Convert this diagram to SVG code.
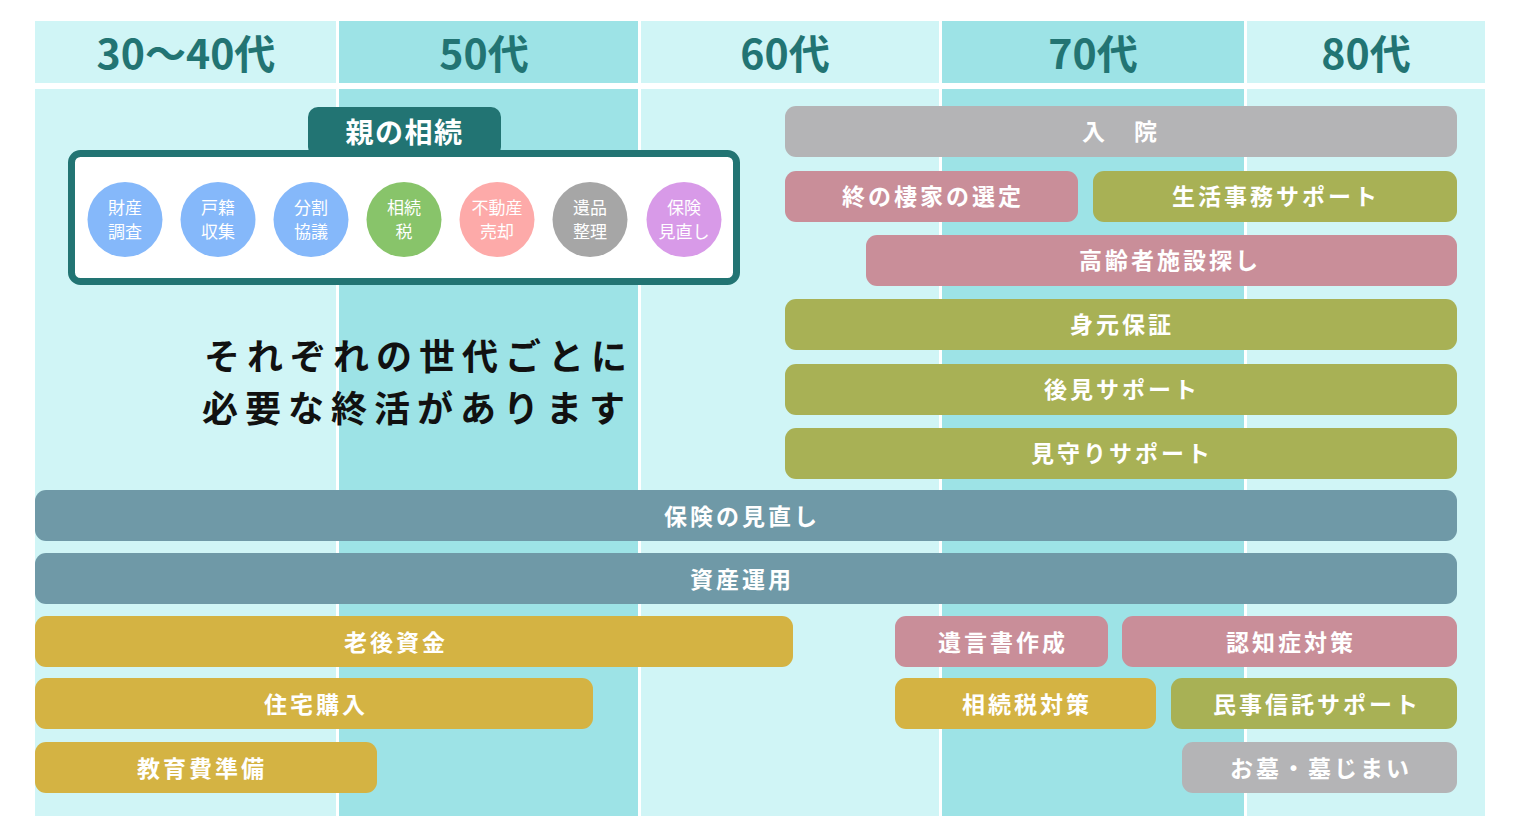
<svg xmlns="http://www.w3.org/2000/svg" width="1520" height="828" viewBox="0 0 1520 828">
<style>
.lt{fill:#d0f5f6}
.dk{fill:#9de3e6}
.hd{font-family:"Noto Sans CJK JP","Noto Sans",sans-serif;font-weight:700;font-size:41px;fill:#227473;text-anchor:middle}
.bar{font-family:"Noto Sans CJK JP",sans-serif;font-weight:700;font-size:23px;fill:#ffffff;text-anchor:middle;letter-spacing:3px}
.ct{font-family:"Noto Sans CJK JP",sans-serif;font-weight:400;font-size:17px;fill:#ffffff;text-anchor:middle}
.main{font-family:"Noto Sans CJK JP",sans-serif;font-weight:700;font-size:36px;fill:#111111;letter-spacing:7px}
.gray{fill:#b4b4b6}.pink{fill:#c98e99}.olive{fill:#a8b155}.slate{fill:#6f99a7}.gold{fill:#d4b343}
</style>
<rect width="1520" height="828" fill="#ffffff"/>
<g id="columns">
<rect class="lt" x="35" y="21" width="301" height="62"/>
<rect class="dk" x="339" y="21" width="299" height="62"/>
<rect class="lt" x="641" y="21" width="298" height="62"/>
<rect class="dk" x="942" y="21" width="302" height="62"/>
<rect class="lt" x="1247" y="21" width="238" height="62"/>
<rect class="lt" x="35" y="89" width="301" height="727"/>
<rect class="dk" x="339" y="89" width="299" height="727"/>
<rect class="lt" x="641" y="89" width="298" height="727"/>
<rect class="dk" x="942" y="89" width="302" height="727"/>
<rect class="lt" x="1247" y="89" width="238" height="727"/>
<text class="hd" x="186" y="69">30〜40代</text>
<text class="hd" x="484" y="69">50代</text>
<text class="hd" x="785" y="69">60代</text>
<text class="hd" x="1093" y="69">70代</text>
<text class="hd" x="1366" y="69">80代</text>
</g>
<g id="parent-inheritance">
<rect x="308" y="107" width="193" height="50" rx="10" fill="#227473"/>
<rect x="71.5" y="153.5" width="665" height="128" rx="9" fill="#ffffff" stroke="#227473" stroke-width="7"/>
<text x="404.5" y="143" font-family="'Noto Sans CJK JP',sans-serif" font-weight="700" font-size="28" fill="#ffffff" text-anchor="middle" letter-spacing="1.5">親の相続</text>
<g id="c1"><circle cx="125" cy="219.5" r="37.5" fill="#85b8fa"/><text class="ct" x="125" y="214">財産</text><text class="ct" x="125" y="238">調査</text></g>
<g id="c2"><circle cx="218" cy="219.5" r="37.5" fill="#85b8fa"/><text class="ct" x="218" y="214">戸籍</text><text class="ct" x="218" y="238">収集</text></g>
<g id="c3"><circle cx="311" cy="219.5" r="37.5" fill="#85b8fa"/><text class="ct" x="311" y="214">分割</text><text class="ct" x="311" y="238">協議</text></g>
<g id="c4"><circle cx="404" cy="219.5" r="37.5" fill="#88c46a"/><text class="ct" x="404" y="214">相続</text><text class="ct" x="404" y="238">税</text></g>
<g id="c5"><circle cx="497" cy="219.5" r="37.5" fill="#fdaaa9"/><text class="ct" x="497" y="214">不動産</text><text class="ct" x="497" y="238">売却</text></g>
<g id="c6"><circle cx="590" cy="219.5" r="37.5" fill="#a6a6a6"/><text class="ct" x="590" y="214">遺品</text><text class="ct" x="590" y="238">整理</text></g>
<g id="c7"><circle cx="684" cy="219.5" r="37.5" fill="#d89ae8"/><text class="ct" x="684" y="214">保険</text><text class="ct" x="684" y="238">見直し</text></g>
</g>
<g id="message">
<text class="main" x="204" y="370">それぞれの世代ごとに</text>
<text class="main" x="202" y="422">必要な終活があります</text>
</g>
<g id="connectors"></g>
<g id="bars">
<g id="b-nyuin"><rect class="gray" x="785" y="106" width="672" height="51" rx="11"/><text class="bar" x="1121" y="140">入　院</text></g>
<g id="b-tsui"><rect class="pink" x="785" y="171" width="293" height="51" rx="11"/><text class="bar" x="933" y="205">終の棲家の選定</text></g>
<g id="b-seikatsu"><rect class="olive" x="1093" y="171" width="364" height="51" rx="11"/><text class="bar" x="1276" y="205">生活事務サポート</text></g>
<g id="b-koreisha"><rect class="pink" x="866" y="235" width="591" height="51" rx="11"/><text class="bar" x="1170" y="269">高齢者施設探し</text></g>
<g id="b-mimoto"><rect class="olive" x="785" y="299" width="672" height="51" rx="11"/><text class="bar" x="1122" y="333">身元保証</text></g>
<g id="b-koken"><rect class="olive" x="785" y="364" width="672" height="51" rx="11"/><text class="bar" x="1122" y="398">後見サポート</text></g>
<g id="b-mimamori"><rect class="olive" x="785" y="428" width="672" height="51" rx="11"/><text class="bar" x="1122" y="462">見守りサポート</text></g>
<g id="b-hoken"><rect class="slate" x="35" y="490" width="1422" height="51" rx="11"/><text class="bar" x="742" y="525">保険の見直し</text></g>
<g id="b-shisan"><rect class="slate" x="35" y="553" width="1422" height="51" rx="11"/><text class="bar" x="742" y="588">資産運用</text></g>
<g id="b-rougo"><rect class="gold" x="35" y="616" width="758" height="51" rx="11"/><text class="bar" x="396" y="651">老後資金</text></g>
<g id="b-yuigon"><rect class="pink" x="895" y="616" width="213" height="51" rx="11"/><text class="bar" x="1003" y="651">遺言書作成</text></g>
<g id="b-ninchi"><rect class="pink" x="1122" y="616" width="335" height="51" rx="11"/><text class="bar" x="1291" y="651">認知症対策</text></g>
<g id="b-jutaku"><rect class="gold" x="35" y="678" width="558" height="51" rx="11"/><text class="bar" x="316" y="713">住宅購入</text></g>
<g id="b-sozokuzei"><rect class="gold" x="895" y="678" width="261" height="51" rx="11"/><text class="bar" x="1027" y="713">相続税対策</text></g>
<g id="b-minji"><rect class="olive" x="1171" y="678" width="286" height="51" rx="11"/><text class="bar" x="1317" y="713">民事信託サポート</text></g>
<g id="b-kyoiku"><rect class="gold" x="35" y="742" width="342" height="51" rx="11"/><text class="bar" x="202" y="777">教育費準備</text></g>
<g id="b-ohaka"><rect class="gray" x="1182" y="742" width="275" height="51" rx="11"/><text class="bar" x="1321" y="777">お墓・墓じまい</text></g>
</g>
</svg>
